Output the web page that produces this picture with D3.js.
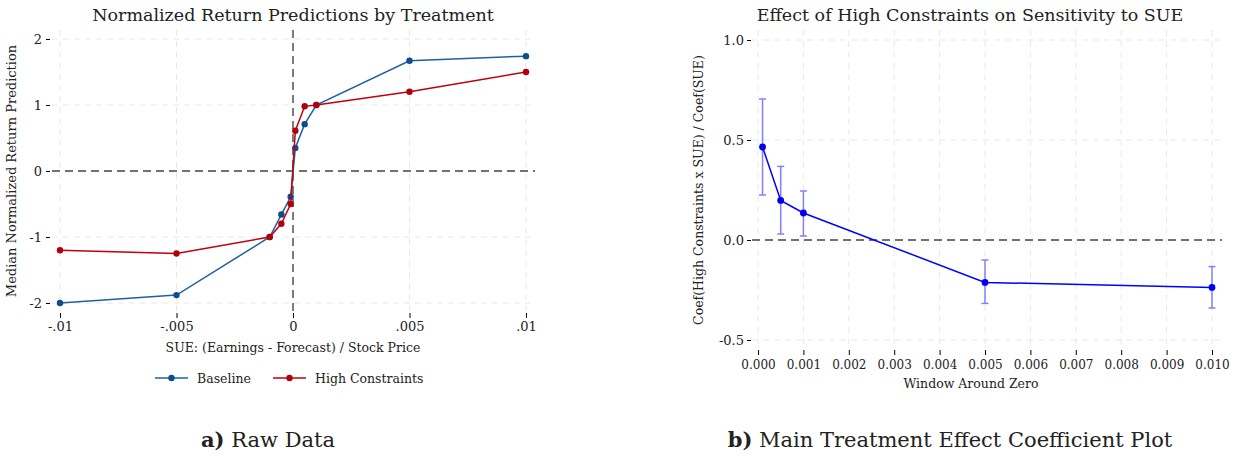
<!DOCTYPE html>
<html>
<head>
<meta charset="utf-8">
<script src="https://cdn.jsdelivr.net/npm/d3@7"></script>
<style>
  body { margin: 0; background: #fff; }
  text { font-family: "DejaVu Serif", serif; fill: #222; }
</style>
</head>
<body>
<svg id="fig" width="1237" height="458"></svg>
<script>
// panel a data
const sueX = [-0.01, -0.005, -0.001, -0.0005, -0.0001, 0.0001, 0.0005, 0.001, 0.005, 0.01];
const baseline = [-2.0, -1.88, -1.0, -0.66, -0.39, 0.35, 0.71, 1.0, 1.67, 1.74];
const highConstraints = [-1.2, -1.25, -1.0, -0.8, -0.5, 0.61, 0.98, 1.0, 1.2, 1.5];
const xTicksA = [-0.01, -0.005, 0, 0.005, 0.01];
const xTickLabelsA = ["-.01", "-.005", "0", ".005", ".01"];
const yTicksA = [-2, -1, 0, 1, 2];

// panel b data
const windowX = [0.0001, 0.0005, 0.001, 0.005, 0.010];
const coef = [0.465, 0.198, 0.135, -0.212, -0.237];
const ciLow = [0.225, 0.03, 0.02, -0.317, -0.34];
const ciHigh = [0.705, 0.368, 0.245, -0.10, -0.133];
const xTicksB = d3.range(0, 11).map(i => i / 1000);
const yTicksB = [-0.5, 0, 0.5, 1.0];

const svg = d3.select("#fig");
const gridCol = "#e8e8e8";

// ---------- panel a ----------
const xa = d3.scaleLinear().domain([-0.01, 0.01]).range([60, 526]);
const ya = d3.scaleLinear().domain([-2, 2]).range([303, 39]);
const ga = svg.append("g");

// grid
ga.selectAll(".vg").data(xTicksA.filter(d => d !== 0)).enter().append("line")
  .attr("x1", d => xa(d)).attr("x2", d => xa(d)).attr("y1", 30).attr("y2", 312)
  .attr("stroke", gridCol).attr("stroke-dasharray", "6,5");
ga.selectAll(".hg").data(yTicksA.filter(d => d !== 0)).enter().append("line")
  .attr("x1", 52).attr("x2", 535).attr("y1", d => ya(d)).attr("y2", d => ya(d))
  .attr("stroke", gridCol).attr("stroke-dasharray", "6,5");

// zero reference lines
ga.append("line").attr("x1", 52).attr("x2", 535).attr("y1", ya(0)).attr("y2", ya(0))
  .attr("stroke", "#444").attr("stroke-width", 1.4).attr("stroke-dasharray", "8,5");
ga.append("line").attr("x1", xa(0)).attr("x2", xa(0)).attr("y1", 30).attr("y2", 315)
  .attr("stroke", "#444").attr("stroke-width", 1.4).attr("stroke-dasharray", "8,5");

// axes
const axA = d3.axisBottom(xa).tickValues(xTicksA).tickFormat((d, i) => xTickLabelsA[i]).tickSize(5).tickPadding(4);
ga.append("g").attr("transform", "translate(0,313)").call(axA)
  .call(g => g.select(".domain").remove())
  .call(g => g.selectAll("text").style("font-size", "13px").style("font-family", "DejaVu Serif"));
const ayA = d3.axisLeft(ya).tickValues(yTicksA).tickFormat(d => String(d)).tickSize(4).tickPadding(4);
ga.append("g").attr("transform", "translate(50,0)").call(ayA)
  .call(g => g.select(".domain").remove())
  .call(g => g.selectAll("text").style("font-size", "13px").style("font-family", "DejaVu Serif"));

const lineA = d3.line().x((d, i) => xa(sueX[i])).y(d => ya(d));
[[baseline, "#1f5fa6", "#0e4b90"], [highConstraints, "#c00010", "#b0000c"]].forEach(([s, c, dc]) => {
  ga.append("path").datum(s).attr("d", lineA).attr("fill", "none").attr("stroke", c).attr("stroke-width", 1.5);
  ga.selectAll(null).data(s).enter().append("circle")
    .attr("cx", (d, i) => xa(sueX[i])).attr("cy", d => ya(d)).attr("r", 3.2).attr("fill", dc);
});

ga.append("text").attr("x", 293).attr("y", 21).attr("text-anchor", "middle").style("font-size", "17.5px")
  .text("Normalized Return Predictions by Treatment");
ga.append("text").attr("x", 293).attr("y", 352).attr("text-anchor", "middle").style("font-size", "12.5px")
  .text("SUE: (Earnings - Forecast) / Stock Price");
ga.append("text").attr("transform", "translate(16,171) rotate(-90)").attr("text-anchor", "middle").style("font-size", "13px")
  .text("Median Normalized Return Prediction");

// legend
[["Baseline", "#1f5fa6", "#0e4b90", 155], ["High Constraints", "#c00010", "#b0000c", 273]].forEach(([t, c, dc, x0]) => {
  ga.append("line").attr("x1", x0).attr("x2", x0 + 33).attr("y1", 378).attr("y2", 378).attr("stroke", c).attr("stroke-width", 1.5);
  ga.append("circle").attr("cx", x0 + 16.5).attr("cy", 378).attr("r", 3.2).attr("fill", dc);
  ga.append("text").attr("x", x0 + 42).attr("y", 383).style("font-size", "12.5px").text(t);
});

// ---------- panel b ----------
const xb = d3.scaleLinear().domain([0, 0.010]).range([758, 1212]);
const yb = d3.scaleLinear().domain([-0.5, 1.0]).range([340, 40]);
const gb = svg.append("g");

gb.selectAll(".vg").data(xTicksB).enter().append("line")
  .attr("x1", d => xb(d)).attr("x2", d => xb(d)).attr("y1", 30).attr("y2", 349)
  .attr("stroke", gridCol).attr("stroke-dasharray", "6,5");
gb.selectAll(".hg").data(yTicksB.filter(d => d !== 0)).enter().append("line")
  .attr("x1", 752).attr("x2", 1222).attr("y1", d => yb(d)).attr("y2", d => yb(d))
  .attr("stroke", gridCol).attr("stroke-dasharray", "6,5");
gb.append("line").attr("x1", 752).attr("x2", 1222).attr("y1", yb(0)).attr("y2", yb(0))
  .attr("stroke", "#444").attr("stroke-width", 1.4).attr("stroke-dasharray", "8,5");

const axB = d3.axisBottom(xb).tickValues(xTicksB).tickFormat(d => d.toFixed(3)).tickSize(5).tickPadding(5);
gb.append("g").attr("transform", "translate(0,350)").call(axB)
  .call(g => g.select(".domain").remove())
  .call(g => g.selectAll("text").style("font-size", "12px").style("font-family", "DejaVu Serif"));
const ayB = d3.axisLeft(yb).tickValues(yTicksB).tickFormat(d => d.toFixed(1)).tickSize(4).tickPadding(3);
gb.append("g").attr("transform", "translate(751,0)").call(ayB)
  .call(g => g.select(".domain").remove())
  .call(g => g.selectAll("text").style("font-size", "13px").style("font-family", "DejaVu Serif"));

// error bars
const ebCol = "#8080ff";
windowX.forEach((x, i) => {
  gb.append("line").attr("x1", xb(x)).attr("x2", xb(x)).attr("y1", yb(ciLow[i])).attr("y2", yb(ciHigh[i]))
    .attr("stroke", ebCol).attr("stroke-width", 1.5);
  [ciLow[i], ciHigh[i]].forEach(v => {
    gb.append("line").attr("x1", xb(x) - 3.5).attr("x2", xb(x) + 3.5).attr("y1", yb(v)).attr("y2", yb(v))
      .attr("stroke", ebCol).attr("stroke-width", 1.5);
  });
});
const lineB = d3.line().x((d, i) => xb(windowX[i])).y(d => yb(d));
gb.append("path").datum(coef).attr("d", lineB).attr("fill", "none").attr("stroke", "#0000ff").attr("stroke-width", 1.5);
gb.selectAll(null).data(coef).enter().append("circle")
  .attr("cx", (d, i) => xb(windowX[i])).attr("cy", d => yb(d)).attr("r", 3.4).attr("fill", "#0000ee");

gb.append("text").attr("x", 970).attr("y", 21).attr("text-anchor", "middle").style("font-size", "17.5px")
  .text("Effect of High Constraints on Sensitivity to SUE");
gb.append("text").attr("x", 971).attr("y", 388).attr("text-anchor", "middle").style("font-size", "12.5px")
  .text("Window Around Zero");
gb.append("text").attr("transform", "translate(703,190) rotate(-90)").attr("text-anchor", "middle").style("font-size", "12.5px")
  .text("Coef(High Constraints x SUE) / Coef(SUE)");

// captions
const capA = svg.append("text").attr("x", 268).attr("y", 447).attr("text-anchor", "middle").style("font-size", "21px");
capA.append("tspan").style("font-weight", "bold").text("a)");
capA.append("tspan").text(" Raw Data");
const capB = svg.append("text").attr("x", 950).attr("y", 447).attr("text-anchor", "middle").style("font-size", "21px");
capB.append("tspan").style("font-weight", "bold").text("b)");
capB.append("tspan").text(" Main Treatment Effect Coefficient Plot");
</script>
</body>
</html>
